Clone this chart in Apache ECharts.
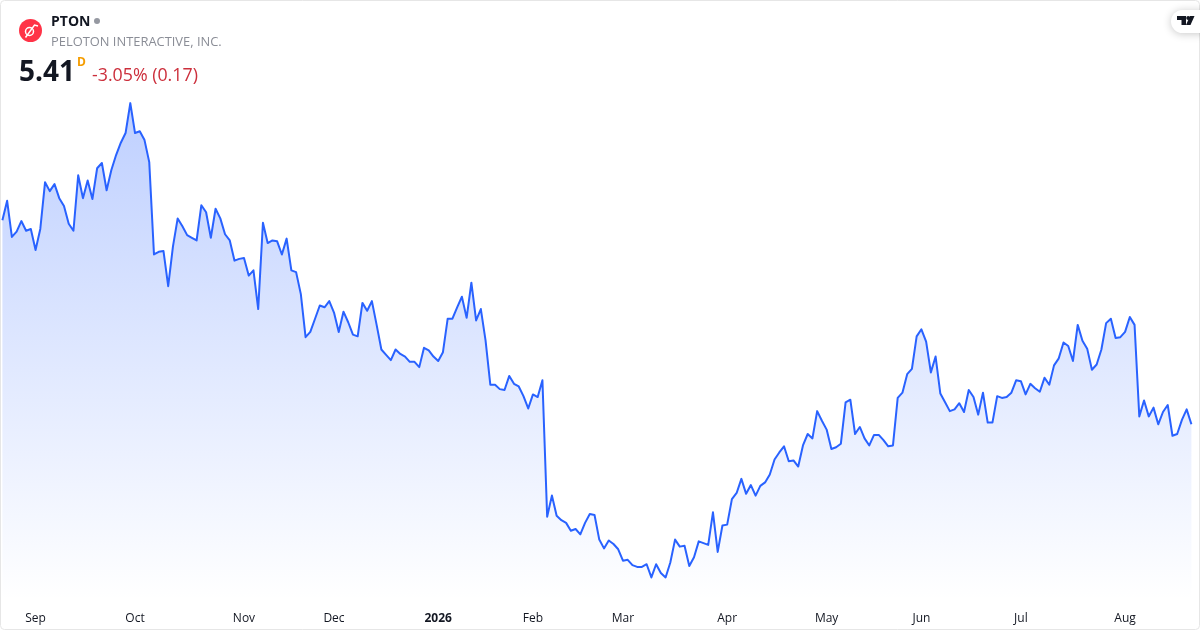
<!DOCTYPE html>
<html>
<head>
<meta charset="utf-8">
<style>html,body{margin:0;padding:0;background:#fff}#c{width:1200px;height:630px}</style>
<script src="https://cdn.jsdelivr.net/npm/echarts@6/dist/echarts.min.js"></script>
</head>
<body>
<div id="c"></div>
<script>
const prices = [
7.73,7.95,7.54,7.60,7.72,7.61,7.63,7.39,7.63,8.16,8.06,8.14,7.98,7.89,7.69,7.61,8.24,7.98,8.18,7.97,
8.32,8.38,8.07,8.30,8.47,8.61,8.72,9.06,8.72,8.74,8.64,8.39,7.34,7.37,7.38,6.98,7.43,7.75,7.66,7.56,
7.53,7.50,7.90,7.82,7.53,7.86,7.75,7.57,7.50,7.27,7.29,7.30,7.10,7.16,6.72,7.70,7.47,7.50,7.49,7.34,
7.52,7.16,7.14,6.89,6.40,6.46,6.61,6.76,6.74,6.81,6.68,6.46,6.69,6.57,6.43,6.41,6.79,6.70,6.81,6.54,
6.26,6.20,6.14,6.26,6.21,6.18,6.12,6.12,6.06,6.28,6.25,6.18,6.13,6.23,6.61,6.61,6.74,6.86,6.62,7.02,
6.59,6.72,6.36,5.86,5.86,5.81,5.80,5.96,5.87,5.84,5.73,5.59,5.75,5.72,5.91,4.36,4.60,4.37,4.32,4.29,
4.20,4.22,4.16,4.29,4.39,4.38,4.10,4.00,4.09,4.05,3.99,3.86,3.87,3.81,3.79,3.79,3.82,3.67,3.82,3.72,
3.67,3.84,4.10,4.02,4.03,3.80,3.90,4.08,4.06,4.04,4.41,3.96,4.26,4.27,4.56,4.63,4.79,4.62,4.72,4.60,
4.71,4.75,4.84,5.01,5.09,5.16,4.99,5.00,4.93,5.17,5.30,5.25,5.56,5.45,5.35,5.13,5.15,5.19,5.66,5.69,
5.30,5.38,5.25,5.17,5.29,5.29,5.23,5.16,5.17,5.71,5.77,5.98,6.04,6.41,6.49,6.35,6.00,6.18,5.76,5.66,
5.56,5.58,5.65,5.55,5.80,5.72,5.52,5.77,5.43,5.43,5.73,5.71,5.72,5.77,5.91,5.90,5.75,5.87,5.82,5.78,
5.94,5.86,6.08,6.16,6.34,6.30,6.13,6.54,6.36,6.27,6.03,6.09,6.26,6.56,6.61,6.39,6.40,6.46,6.63,6.54,
5.50,5.68,5.50,5.60,5.41,5.55,5.63,5.28,5.30,5.46,5.58,5.41
];
const tickIndex = [7,28,51,70,92,112,131,153,174,194,215,237];
const tickLabels = ['Sep','Oct','Nov','Dec','2026','Feb','Mar','Apr','May','Jun','Jul','Aug'];
const categories = prices.map((_, i) => {
  const k = tickIndex.indexOf(i);
  return k >= 0 ? tickLabels[k] : String(i);
});
const symbol = 'PTON';
const company = 'PELOTON INTERACTIVE, INC.';
const lastPrice = '5.41';
const interval = 'D';
const change = '-3.05% (0.17)';
const FONT = '"Open Sans", "Noto Sans", sans-serif';

const chart = echarts.init(document.getElementById('c'), null, {renderer: 'canvas'});
chart.setOption({
  animation: false,
  backgroundColor: '#ffffff',
  grid: {left: 2.4, top: 0, width: 1189, height: 600},
  xAxis: {
    type: 'category', data: categories, boundaryGap: false,
    axisLine: {show: false}, axisTick: {show: false}, splitLine: {show: false},
    axisLabel: {
      interval: i => tickIndex.includes(i),
      hideOverlap: false, margin: 13, fontSize: 12, color: '#131722', fontFamily: FONT,
      formatter: v => v === '2026' ? '{b|2026}' : v,
      rich: {b: {fontWeight: 'bold', fontSize: 12, color: '#131722', fontFamily: FONT}}
    }
  },
  yAxis: {type: 'value', min: 3.4136, max: 10.232, show: false, splitLine: {show: false}},
  series: [{
    type: 'line', data: prices, symbol: 'none', smooth: false,
    lineStyle: {color: '#2962FF', width: 2, join: 'round'},
    areaStyle: {opacity: 1, color: new echarts.graphic.LinearGradient(0, 0, 0, 1, [
      {offset: 0, color: 'rgba(41,98,255,0.3)'},
      {offset: 1, color: 'rgba(41,98,255,0)'}
    ])}
  }],
  graphic: [
    {type: 'rect', silent: true, z: 100, shape: {x: 0.5, y: 0.5, width: 1199, height: 629, r: 4},
      style: {fill: 'none', stroke: '#E6E6E6', lineWidth: 1}},
    {type: 'circle', z: 101, shape: {cx: 30.5, cy: 30.5, r: 11.5}, style: {fill: '#FF3347'}},
    {type: 'circle', z: 102, shape: {cx: 29.5, cy: 31.5, r: 4}, style: {fill: 'none', stroke: '#fff', lineWidth: 1.5}},
    {type: 'polyline', z: 102, shape: {points: [[25.5,37.5],[34.5,25],[38,26]]}, style: {fill: 'none', stroke: '#fff', lineWidth: 1.5}},
    {type: 'text', z: 102, left: 51, top: 15, style: {text: symbol, font: '700 14px ' + FONT, fill: '#131722'}},
    {type: 'circle', z: 102, shape: {cx: 97, cy: 21, r: 3}, style: {fill: '#9598A1'}},
    {type: 'text', z: 102, left: 51, top: 36, style: {text: company, font: '12.9px ' + FONT, fill: '#8A8D96'}},
    {type: 'text', z: 102, left: 19, top: 59, style: {text: lastPrice, font: '700 28px ' + FONT, fill: '#131722'}},
    {type: 'text', z: 102, left: 77, top: 57, style: {text: interval, font: '700 12px ' + FONT, fill: '#F59D00'}},
    {type: 'text', z: 102, left: 92, top: 67, style: {text: change, font: '17.8px ' + FONT, fill: '#CC2F3C'}},
    {type: 'rect', z: 102, shape: {x: 1171, y: 10, width: 40, height: 23, r: 11.5},
      style: {fill: '#fff', shadowBlur: 8, shadowColor: 'rgba(0,0,0,0.22)', shadowOffsetY: 1}},
    {type: 'polygon', z: 104, shape: {points: [[1177,16],[1186,16],[1186,25],[1181.5,25],[1181.5,20],[1177,20]]}, style: {fill: '#131722'}},
    {type: 'circle', z: 104, shape: {cx: 1188.2, cy: 18, r: 2}, style: {fill: '#131722'}},
    {type: 'polygon', z: 104, shape: {points: [[1190,16],[1194.5,16],[1190.5,25],[1186,25]]}, style: {fill: '#131722'}}
  ]
});
</script>
</body>
</html>
